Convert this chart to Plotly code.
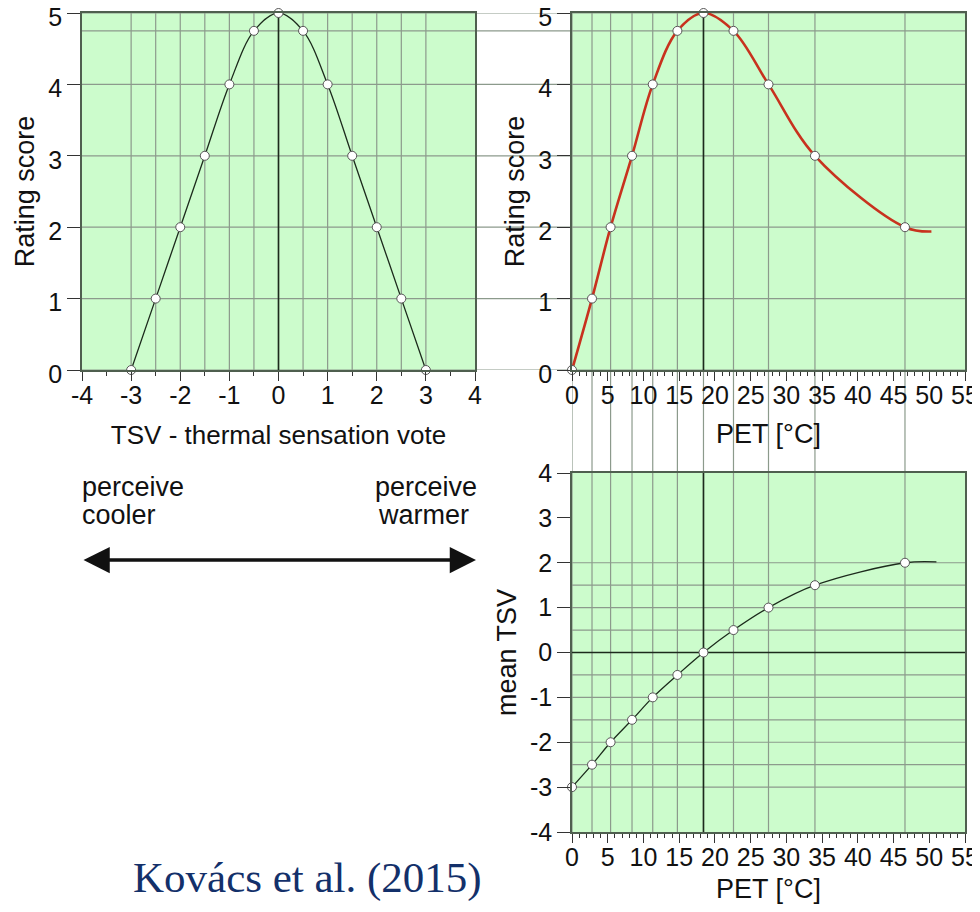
import plotly.graph_objects as go

# TSV vs rating (top left)
tsv_vote = [-3, -2.5, -2, -1.5, -1, -0.5, 0, 0.5, 1, 1.5, 2, 2.5, 3]
rating_tsv = [0, 1, 2, 3, 4, 4.75, 5, 4.75, 4, 3, 2, 1, 0]

# PET vs rating (top right) and PET vs mean TSV (bottom right)
pet = [0, 2.8, 5.4, 8.4, 11.3, 14.75, 18.4, 22.6, 27.5, 34.0, 46.6]
rating_pet = [0, 1, 2, 3, 4, 4.75, 5, 4.75, 4, 3, 2]
mean_tsv = [-3, -2.5, -2, -1.5, -1, -0.5, 0, 0.5, 1, 1.5, 2]

# where the curves run out past the last marked point
pet_rating_tail = [50.3, 1.94]
pet_tsv_tail = [51.0, 2.02]

# tick labels use a plain hyphen, like the original
pm4_ticks = [-4, -3, -2, -1, 0, 1, 2, 3, 4]
pm4_labels = ['-4', '-3', '-2', '-1', '0', '1', '2', '3', '4']

# the page body has an 8px margin; size the figure so the page does not scroll
# and give every position below in window pixels
OFF = 8
W, H = 980 - OFF, 912 - 2 * OFF
GREEN = '#ccfccc'
GRID = '#8c9a8c'
FRAME = '#4f5f4f'
DARK = '#1c2a1c'
FONT = 'Liberation Sans, Arial, sans-serif'


def px(x):
    return (x - OFF) / W


def py(y):
    return 1 - (y - OFF) / H


left_dom = [px(82), px(475)]
right_dom = [px(572), px(965)]
top_dom = [py(370), py(13)]
bot_dom = [py(832), py(473)]

fig = go.Figure()

marker = dict(size=9, color='white', line=dict(color='#555555', width=1))

fig.add_trace(go.Scatter(x=tsv_vote, y=rating_tsv, mode='lines+markers',
                         line=dict(color=DARK, width=1.3, shape='spline'),
                         marker=marker, cliponaxis=False, xaxis='x', yaxis='y'))

fig.add_trace(go.Scatter(x=pet + [pet_rating_tail[0]], y=rating_pet + [pet_rating_tail[1]],
                         mode='lines', line=dict(color='#c8321e', width=2.6, shape='spline'),
                         cliponaxis=False, xaxis='x2', yaxis='y2'))
fig.add_trace(go.Scatter(x=pet, y=rating_pet, mode='markers', marker=marker,
                         cliponaxis=False, xaxis='x2', yaxis='y2'))

fig.add_trace(go.Scatter(x=pet + [pet_tsv_tail[0]], y=mean_tsv + [pet_tsv_tail[1]],
                         mode='lines', line=dict(color=DARK, width=1.3, shape='spline'),
                         cliponaxis=False, xaxis='x3', yaxis='y3'))
fig.add_trace(go.Scatter(x=pet, y=mean_tsv, mode='markers', marker=marker,
                         cliponaxis=False, xaxis='x3', yaxis='y3'))

# grid lines
gl = dict(color=GRID, width=1.2)
for v in tsv_vote:
    fig.add_shape(type='line', xref='x', yref='y', x0=v, x1=v, y0=0, y1=5, line=gl, layer='below')
for r in sorted(set(rating_tsv)):
    fig.add_shape(type='line', xref='paper', yref='y', x0=left_dom[0], x1=right_dom[1],
                  y0=r, y1=r, line=gl, layer='below')
for p in pet:
    fig.add_shape(type='line', xref='x2', yref='paper', x0=p, x1=p,
                  y0=bot_dom[0], y1=top_dom[1], line=gl, layer='below')
for m in mean_tsv:
    fig.add_shape(type='line', xref='x3', yref='y3', x0=0, x1=55, y0=m, y1=m, line=gl, layer='below')

# dark reference lines
dl = dict(color=DARK, width=1.6)
fig.add_shape(type='line', xref='x', yref='y', x0=0, x1=0, y0=0, y1=5, line=dl, layer='below')
p_opt = pet[rating_pet.index(max(rating_pet))]
fig.add_shape(type='line', xref='x2', yref='y2', x0=p_opt, x1=p_opt, y0=0, y1=5, line=dl, layer='below')
fig.add_shape(type='line', xref='x3', yref='y3', x0=p_opt, x1=p_opt, y0=-4, y1=4, line=dl, layer='below')
fig.add_shape(type='line', xref='x3', yref='y3', x0=0, x1=55, y0=0, y1=0, line=dl, layer='below')

tickfont = dict(family=FONT, size=25, color='#111111')
titlefont = dict(family=FONT, size=27, color='#111111')

ax_common = dict(showgrid=False, zeroline=False, showline=True, mirror=True, automargin=False,
                 linecolor=FRAME, linewidth=1.5, ticks='outside', tickcolor='#333333',
                 tickwidth=1.3, tickfont=tickfont, ticklabeloverflow='allow')
minor_x = dict(ticklen=4, ticks='outside', tickcolor='#333333')

xaxis = dict(ax_common, domain=left_dom, range=[-4, 4], anchor='y',
             tickmode='array', tickvals=pm4_ticks, ticktext=pm4_labels,
             ticklen=9, ticklabelstandoff=-7, minor=dict(minor_x, dtick=0.5, tick0=0),
             title=dict(text='TSV - thermal sensation vote', font=dict(titlefont, size=26), standoff=18))
yaxis = dict(ax_common, domain=top_dom, range=[0, 5], anchor='x', dtick=1, ticklen=13,
             ticklabelshift=4,
             title=dict(text='Rating score', font=titlefont, standoff=6))
xaxis2 = dict(ax_common, domain=right_dom, range=[0, 55], anchor='y2', dtick=5, ticklen=9,
              ticklabelstandoff=-7, minor=dict(minor_x, dtick=1),
              title=dict(text='PET [°C]', font=titlefont, standoff=16))
yaxis2 = dict(ax_common, domain=top_dom, range=[0, 5], anchor='x2', dtick=1, ticklen=13,
              ticklabelshift=4,
              title=dict(text='Rating score', font=titlefont, standoff=6))
xaxis3 = dict(ax_common, domain=right_dom, range=[0, 55], anchor='y3', dtick=5, ticklen=9,
              ticklabelstandoff=-7, minor=dict(minor_x, dtick=1),
              title=dict(text='PET [°C]', font=titlefont, standoff=12))
yaxis3 = dict(ax_common, domain=bot_dom, range=[-4, 4], anchor='x3',
              tickmode='array', tickvals=pm4_ticks, ticktext=pm4_labels, ticklen=13,
              title=dict(text='mean TSV', font=titlefont, standoff=6))

side_font = dict(family=FONT, size=27, color='#111111')


def side_text(text, x, y, anchor):
    return dict(text=text, x=px(x), y=py(y), xref='paper', yref='paper',
                xanchor=anchor, yanchor='middle', showarrow=False, font=side_font)


annotations = [
    side_text('perceive', 80, 487, 'left'),
    side_text('cooler', 80, 515, 'left'),
    side_text('perceive', 479, 487, 'right'),
    side_text('warmer', 376, 515, 'left'),
    dict(text='', x=px(476), y=py(560), ax=82 - 476, ay=0, xref='paper', yref='paper',
         axref='pixel', ayref='pixel', showarrow=True, arrowside='end+start',
         arrowhead=2, startarrowhead=2, arrowsize=1.5, startarrowsize=1.5,
         arrowwidth=3.5, arrowcolor='#111111'),
    dict(text='Kovács et al. (2015)', x=px(131), y=0, xref='paper', yref='paper',
         xanchor='left', yanchor='bottom', showarrow=False,
         font=dict(family='Liberation Serif, serif', size=43, color='#13306a')),
]

fig.update_layout(width=W, height=H, margin=dict(l=0, r=0, t=0, b=0),
                  paper_bgcolor='white', plot_bgcolor=GREEN, showlegend=False,
                  xaxis=xaxis, yaxis=yaxis, xaxis2=xaxis2, yaxis2=yaxis2,
                  xaxis3=xaxis3, yaxis3=yaxis3, annotations=annotations)

fig.write_html('out.html')
